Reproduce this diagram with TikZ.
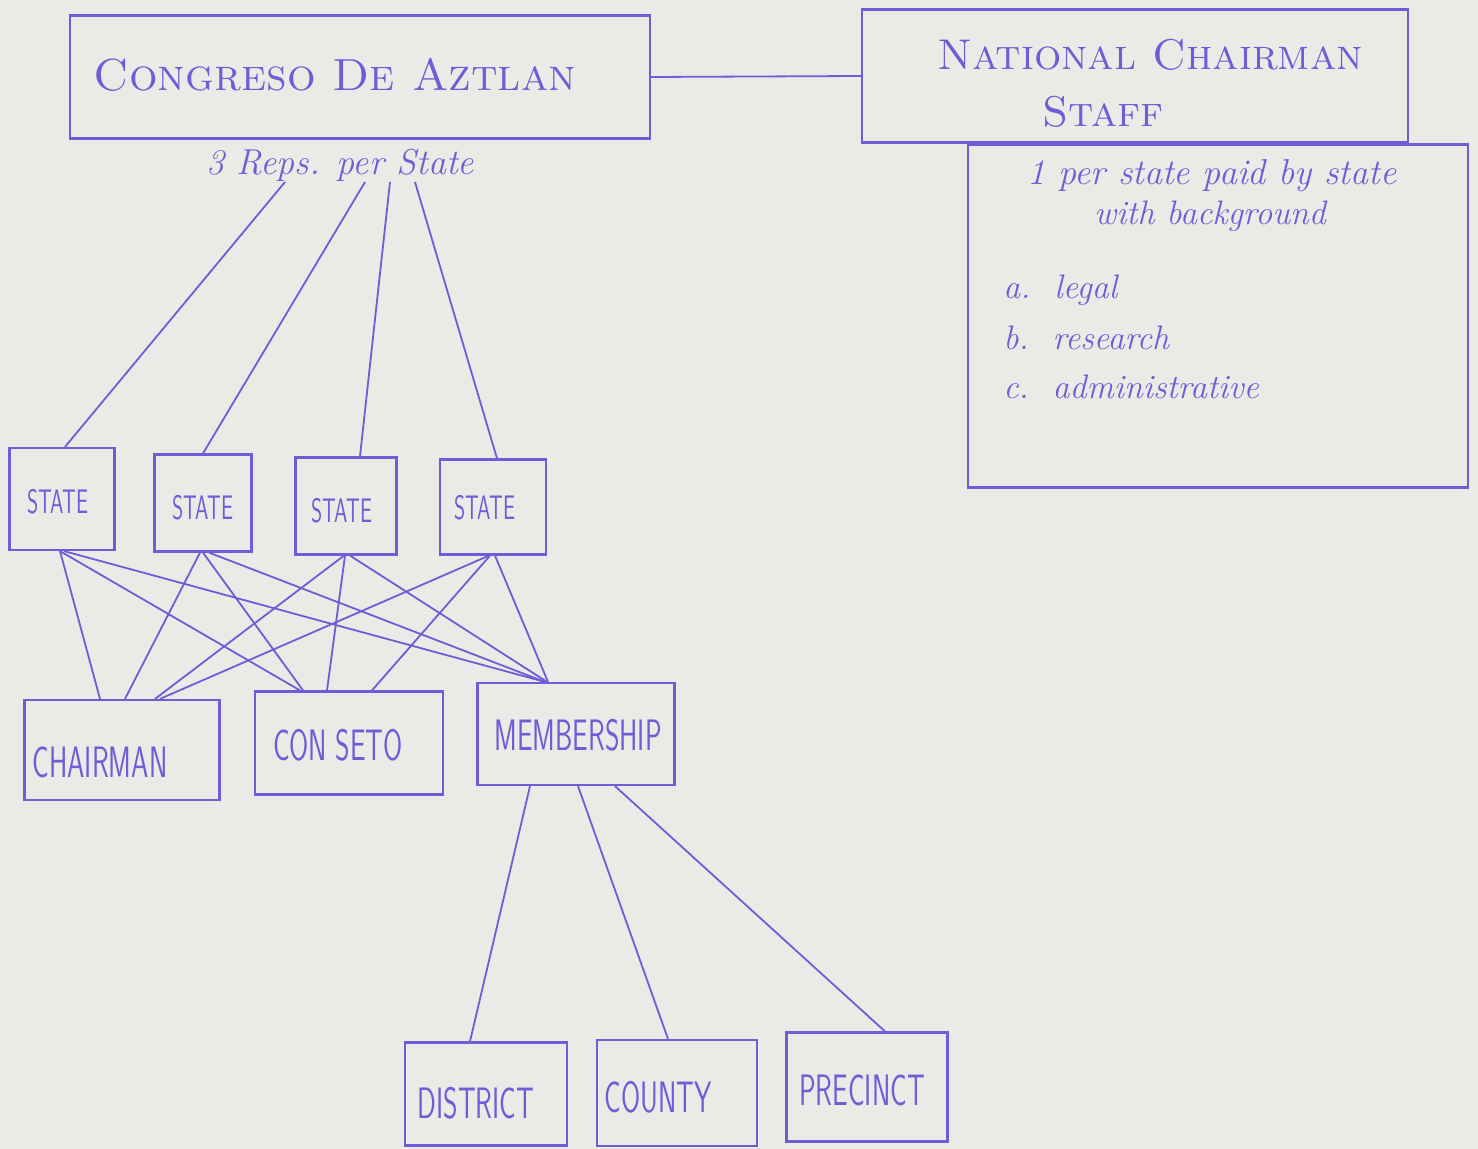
\documentclass[tikz,border=0pt]{standalone}
\usepackage{fontspec}
\definecolor{ink}{RGB}{112,92,214}
\definecolor{paper}{RGB}{234,234,230}
\newcommand{\hand}[1]{\scalebox{0.63}[1]{#1}}
\begin{document}
\begin{tikzpicture}[x=0.5pt,y=-0.5pt,
  box/.style={draw=ink, line width=1.1pt, inner sep=0pt},
  wire/.style={draw=ink, line width=0.9pt},
  lbl/.style={text=ink, inner sep=0pt, font=\sffamily\fontsize{22}{22}\selectfont},
  stlbl/.style={text=ink, inner sep=0pt, font=\sffamily\fontsize{17}{17}\selectfont},
  ttl/.style={text=ink, inner sep=0pt, font=\fontsize{22.5}{22.5}\selectfont\scshape},
  note/.style={text=ink, inner sep=0pt, font=\itshape\fontsize{17}{17}\selectfont},
]
\fill[paper] (0,0) rectangle (1478,1149);
\useasboundingbox (0,0) rectangle (1478,1149);

% top boxes
\node[box, minimum width=290pt, minimum height=61.5pt] (cong) at (360,77) {};
\node[ttl] (congT) at (335,75) {Congreso De Aztlan};
\node[box, minimum width=273pt, minimum height=66.5pt] (nat) at (1135,76) {};
\node[ttl, font=\fontsize{21.5}{21.5}\selectfont\scshape] (natT1) at (1150,55) {National Chairman};
\node[ttl, font=\fontsize{21.5}{21.5}\selectfont\scshape] (natT2) at (1103,112) {Staff};
\node[box, minimum width=250pt, minimum height=171.5pt] (staff) at (1218,316) {};
\node[note, font=\itshape\fontsize{18}{18}\selectfont] (n1) at (1212,176) {1 per state paid by state};
\node[note] (n2) at (1210,216) {with background};
\node[note, anchor=west] (n3) at (1003,290) {a.\ \ legal};
\node[note, anchor=west] (n4) at (1003,338) {b.\ \ research};
\node[note, anchor=west] (n5) at (1003,387) {c.\ \ administrative};

\node[note, font=\itshape\fontsize{18}{18}\selectfont] (reps) at (340,165) {3 Reps. per State};
\coordinate (r1) at (285,182);
\coordinate (r2) at (365,182);
\coordinate (r3) at (390,182);
\coordinate (r4) at (415,182);

% state boxes
\node[box, minimum width=52.5pt, minimum height=51pt] (s1) at (62,499) {};
\node[box, minimum width=48.5pt, minimum height=48.5pt] (s2) at (203,503) {};
\node[box, minimum width=50.5pt, minimum height=48.5pt] (s3) at (346,506) {};
\node[box, minimum width=53pt, minimum height=47.5pt] (s4) at (493,507) {};
\node[stlbl] (s1T) at (58,502) {\hand{STATE}};
\node[stlbl] (s2T) at (203,508) {\hand{STATE}};
\node[stlbl] (s3T) at (342,511) {\hand{STATE}};
\node[stlbl] (s4T) at (485,508) {\hand{STATE}};

% middle boxes
\node[box, minimum width=97.5pt, minimum height=50pt] (chair) at (122,750) {};
\node[box, minimum width=94pt, minimum height=51.5pt] (cons) at (349,743) {};
\node[box, minimum width=98.5pt, minimum height=51pt] (memb) at (576,734) {};
\node[lbl] (chairT) at (100,762) {\hand{CHAIRMAN}};
\node[lbl] (consT) at (338,745) {\hand{CON SETO}};
\node[lbl] (membT) at (578,735) {\hand{MEMBERSHIP}};

% bottom boxes
\node[box, minimum width=81pt, minimum height=51.5pt] (dist) at (486,1094) {};
\node[box, minimum width=80pt, minimum height=53pt] (county) at (677,1093) {};
\node[box, minimum width=80.5pt, minimum height=54.5pt] (prec) at (867,1087) {};
\node[lbl] (distT) at (476,1103) {\hand{DISTRICT}};
\node[lbl] (countyT) at (658,1097) {\hand{COUNTY}};
\node[lbl] (precT) at (862,1090) {\hand{PRECINCT}};

% connectors
\draw[wire] (cong.east) -- (nat.west);
\draw[wire] (r1) -- ([xshift=1.5pt]s1.north);
\draw[wire] (r2) -- (s2.north);
\draw[wire] (r3) -- ([xshift=7pt]s3.north);
\draw[wire] (r4) -- ([xshift=2pt]s4.north);

\draw[wire] ([xshift=-1pt]s1.south) -- ([xshift=-11pt]chair.north);
\draw[wire] ([xshift=-1pt]s1.south) -- ([xshift=-24.5pt]cons.north);
\draw[wire] ([xshift=1pt]s1.south) -- ([xshift=-15.5pt]memb.north);
\draw[wire] ([xshift=-1.5pt]s2.south) -- ([xshift=1.5pt]chair.north);
\draw[wire] ([xshift=0pt]s2.south) -- ([xshift=-23pt]cons.north);
\draw[wire] ([xshift=3pt]s2.south) -- ([xshift=-15.5pt]memb.north);
\draw[wire] ([xshift=-1pt]s3.south) -- ([xshift=16.5pt]chair.north);
\draw[wire] ([xshift=-0.5pt]s3.south) -- ([xshift=-11pt]cons.north);
\draw[wire] ([xshift=2pt]s3.south) -- ([xshift=-14.5pt]memb.north);
\draw[wire] ([xshift=-2pt]s4.south) -- ([xshift=19pt]chair.north);
\draw[wire] ([xshift=-1.5pt]s4.south) -- ([xshift=11.5pt]cons.north);
\draw[wire] ([xshift=1pt]s4.south) -- ([xshift=-14pt]memb.north);

\draw[wire] ([xshift=-23pt]memb.south) -- ([xshift=-8pt]dist.north);
\draw[wire] ([xshift=1pt]memb.south) -- ([xshift=-4.5pt]county.north);
\draw[wire] ([xshift=19.5pt]memb.south) -- ([xshift=9pt]prec.north);
\end{tikzpicture}
\end{document}
